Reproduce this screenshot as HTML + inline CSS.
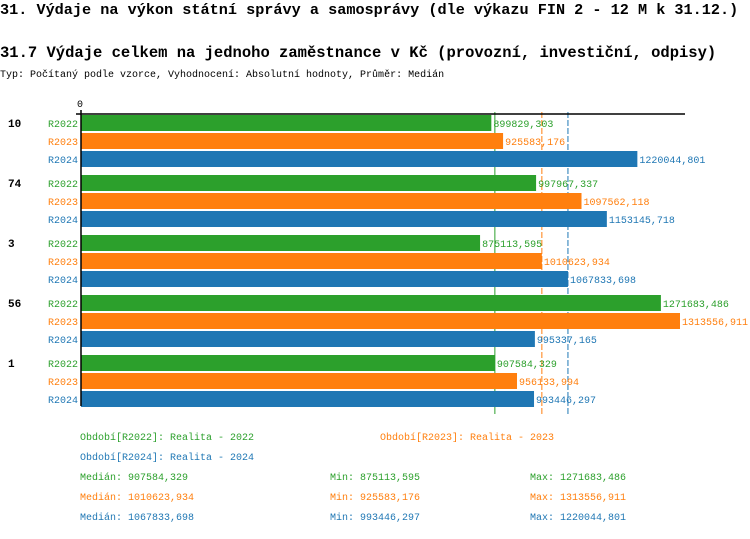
<!DOCTYPE html>
<html><head><meta charset="utf-8"><style>
body{margin:0;background:#fff;width:750px;height:534px;overflow:hidden;font-family:"Liberation Mono",monospace}
svg text{font-family:"Liberation Mono",monospace}
</style></head><body>
<svg id="c" width="750" height="534" xmlns="http://www.w3.org/2000/svg">
<text x="0" y="14" font-size="15.2" font-weight="bold">31. Výdaje na výkon státní správy a samosprávy (dle výkazu FIN 2 - 12 M k 31.12.)</text>
<text x="0" y="57" font-size="15.5" font-weight="bold">31.7 Výdaje celkem na jednoho zaměstnance v Kč (provozní, investiční, odpisy)</text>
<text x="0" y="77" font-size="10">Typ: Počítaný podle vzorce, Vyhodnocení: Absolutní hodnoty, Průměr: Medián</text>
<text x="77" y="107" font-size="10">0</text>
<g id="plot"></g>
</svg>
<script>
const groups=["10","74","3","56","1"];
const seriesNames=["R2022","R2023","R2024"];
const v2022=[899829.303,997967.337,875113.595,1271683.486,907584.329];
const v2023=[925583.176,1097562.118,1010623.934,1313556.911,956133.994];
const v2024=[1220044.801,1153145.718,1067833.698,995337.165,993446.297];
const medians=[907584.329,1010623.934,1067833.698];
const mins=[875113.595,925583.176,993446.297];
const maxs=[1271683.486,1313556.911,1220044.801];
const colors=["#2ca02c","#ff7f0e","#1f77b4"];
const NS="http://www.w3.org/2000/svg";
const x0=81,scale=599/1313556.911;
const xs=v=>x0+v*scale;
const yb=(g,s)=>115+g*60+s*18;
const fmt=v=>v.toFixed(3).replace('.',',');
const plot=document.getElementById('plot');
function mk(tag,attrs,txt){const e=document.createElementNS(NS,tag);for(const k in attrs)e.setAttribute(k,attrs[k]);if(txt!==undefined)e.textContent=txt;plot.appendChild(e);return e;}
const series=[v2022,v2023,v2024];
medians.forEach((m,i)=>{
  const ln=mk('line',{x1:xs(m),x2:xs(m),y1:112,y2:414,stroke:colors[i],'stroke-width':1,'stroke-dasharray':i==0?'':'6,2'});
  
  
});
groups.forEach((g,gi)=>{
  const t=mk('text',{x:8,y:yb(gi,0)+12,'font-size':11,'font-weight':'bold'},g);
  
  
  series.forEach((arr,si)=>{
    const y=yb(gi,si);
    const l=mk('text',{x:78,y:y+12,'font-size':10,fill:colors[si],'text-anchor':'end'},seriesNames[si]);
    
    
    const r=mk('rect',{x:x0,y:y,width:arr[gi]*scale,height:16,fill:colors[si]});
    
    
    const vl=mk('text',{x:xs(arr[gi])+2,y:y+12,'font-size':10,fill:colors[si]},fmt(arr[gi]));
    
    
  });
});
const ax=mk('line',{x1:x0,x2:685,y1:114,y2:114,stroke:'#000','stroke-width':1.5});


const ay=mk('line',{x1:x0,x2:x0,y1:110,y2:406,stroke:'#000','stroke-width':1.5});


const tk=mk('line',{x1:76,x2:x0,y1:114,y2:114,stroke:'#000','stroke-width':1.5});


const leg=[[80,440,"Období[R2022]: Realita - 2022",0],[380,440,"Období[R2023]: Realita - 2023",1],[80,460,"Období[R2024]: Realita - 2024",2]];
leg.forEach(a=>{const e=mk('text',{x:a[0],y:a[1],'font-size':10,fill:colors[a[3]]},a[2]);

});
[0,1,2].forEach(i=>{
  const y=480+i*20;
  const a=mk('text',{x:80,y:y,'font-size':10,fill:colors[i]},'Medián: '+fmt(medians[i]));
  
  
  const b=mk('text',{x:330,y:y,'font-size':10,fill:colors[i]},'Min: '+fmt(mins[i]));
  
  
  const c=mk('text',{x:530,y:y,'font-size':10,fill:colors[i]},'Max: '+fmt(maxs[i]));
  
  
});
</script>
</body></html>
